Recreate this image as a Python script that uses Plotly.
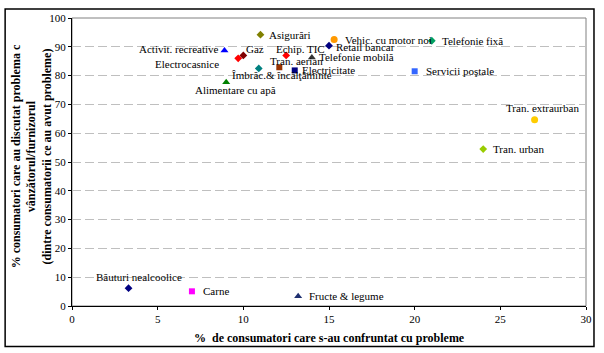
import plotly.graph_objects as go

# ---- data ----
names = ["Asigurări", "Activit. recreative", "Gaz", "Electrocasnice", "Echip. TIC",
         "Tran. aerian", "Îmbrăc.& încălţăminte", "Alimentare cu apă", "Electricitate",
         "Telefonie mobilă", "Vehic. cu motor noi", "Retail bancar", "Telefonie fixă",
         "Servicii poştale", "Tran. extraurban", "Tran. urban", "Băuturi nealcoolice",
         "Carne", "Fructe & legume"]
x_vals = [11.0, 8.9, 10.0, 9.7, 12.5, 12.1, 10.9, 9.0, 13.0, 14.0, 15.3, 15.0, 21.0,
          20.0, 27.0, 24.0, 3.3, 7.0, 13.2]
y_vals = [94.2, 88.7, 87.0, 86.0, 87.0, 82.9, 82.5, 77.7, 81.8, 86.3, 92.5, 90.4, 92.1,
          81.5, 64.7, 54.5, 6.2, 5.1, 3.4]
x_ticks = [0, 5, 10, 15, 20, 25, 30]
y_ticks = [0, 10, 20, 30, 40, 50, 60, 70, 80, 90, 100]

# ---- styles ----
symbols = ["diamond", "triangle-up", "diamond", "diamond", "diamond", "square", "diamond",
           "triangle-up", "square", "triangle-up", "circle", "diamond", "diamond", "square",
           "circle", "diamond", "diamond", "square", "triangle-up"]
colors = ["#808000", "#0000FF", "#800000", "#FF0000", "#FF0000", "#993300", "#008080",
          "#008000", "#000080", "#333333", "#FF9900", "#000080", "#00A060", "#3366FF",
          "#FFCC00", "#99CC00", "#000080", "#FF00FF", "#1F3070"]
sizes = {"diamond": 6, "triangle-up": 7, "square": 6, "circle": 7}
# label offsets (px) and anchor
lab = [(7, 0, "left"), (-3, -2, "right"), (1, -6, "left"), (-17, 6, "right"),
       (-12, -6, "left"), (-11, -6, "left"), (-29, 7, "left"), (9, 8, "center"),
       (5, 0, "left"), (5, 0, "left"), (9, 0, "left"), (5, 1, "left"), (8, 0, "left"),
       (9, 0, "left"), (8, -12, "center"), (8, 0, "left"), (10, -11, "center"),
       (9, 0, "left"), (9, 0, "left")]

FONT = "Liberation Serif"
fig = go.Figure()
for i in range(len(names)):
    fig.add_trace(go.Scatter(x=[x_vals[i]], y=[y_vals[i]], mode="markers",
                             marker=dict(symbol=symbols[i], color=colors[i],
                                         size=sizes[symbols[i]], line=dict(width=0)),
                             showlegend=False, name=names[i]))
    dx, dy, anc = lab[i]
    fig.add_annotation(x=x_vals[i], y=y_vals[i], text=names[i], showarrow=False,
                       xanchor=anc, yanchor="middle", xshift=dx, yshift=-dy,
                       font=dict(family=FONT, size=11, color="black"))

L, R, T, B = 72, 587, 14, 306
W, H = 604, 353
pw, ph = R - L, B - T

# plot area border (gray)
fig.add_shape(type="rect", xref="paper", yref="paper", x0=0, y0=0, x1=1, y1=1,
              line=dict(color="#808080", width=1), layer="below")
# outer chart border
fig.add_shape(type="rect", xref="paper", yref="paper",
              x0=(5 - L) / pw, x1=(595 - L) / pw,
              y0=(B - 347) / ph, y1=(B - 5) / ph,
              line=dict(color="black", width=1.5))

fig.add_annotation(xref="paper", yref="paper", x=(31 - L) / pw, y=0.52,
                   text="<b>% consumatori care au discutat problema c</b><br><b>vânzătorul/furnizorul</b><br><b>(dintre consumatorii ce au avut probleme)</b>",
                   textangle=-90, showarrow=False, xanchor="center", yanchor="middle",
                   font=dict(family=FONT, size=12, color="black"))
fig.add_annotation(xref="paper", yref="paper", x=0.5, y=(B - 338) / ph,
                   text="<b>%  de consumatori care s-au confruntat cu probleme</b>",
                   showarrow=False, xanchor="center", yanchor="middle",
                   font=dict(family=FONT, size=12, color="black"))

fig.update_layout(
    width=W, height=H, margin=dict(l=L, r=W - R, t=T, b=H - B),
    plot_bgcolor="white", paper_bgcolor="white",
    font=dict(family=FONT, size=11, color="black"),
    xaxis=dict(range=[0, 30], tickvals=x_ticks, showgrid=False, zeroline=False,
               showline=True, linecolor="black", linewidth=1, ticks="outside",
               ticklen=3, tickcolor="black", tickfont=dict(family=FONT, size=11)),
    yaxis=dict(range=[0, 100], tickvals=y_ticks, showgrid=True, gridcolor="#BFBFBF",
               griddash="9px,4px", gridwidth=1, zeroline=False, showline=True,
               linecolor="black", linewidth=1, ticks="outside", ticklen=3,
               tickcolor="black", tickfont=dict(family=FONT, size=11)),
)
fig.write_html("out.html")
